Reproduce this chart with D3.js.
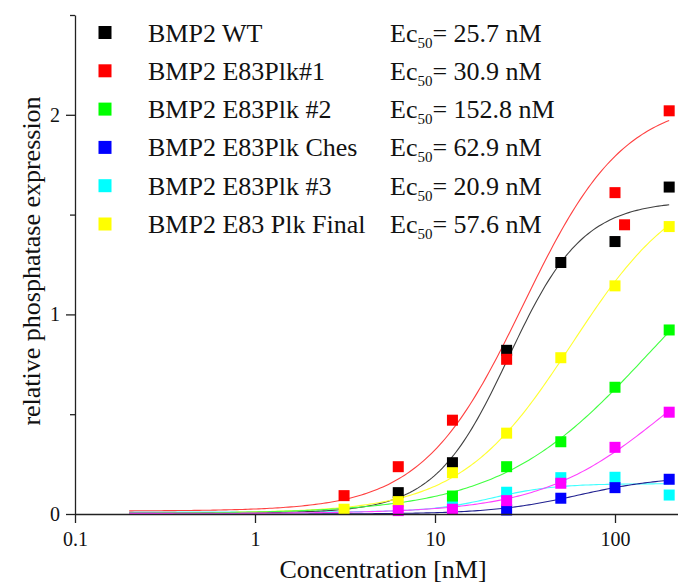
<!DOCTYPE html>
<html>
<head>
<meta charset="utf-8">
<script src="https://cdn.jsdelivr.net/npm/d3@7"></script>
<style>
  body { margin: 0; background: #fff; }
  text { font-family: "Liberation Serif", "Times New Roman", serif; fill: #111; }
</style>
</head>
<body>
<div id="chart"></div>
<script>
// measured points (concentration in nM, relative phosphatase expression)
var concentrations = [3.125, 6.25, 12.5, 25, 50, 100, 200];
var redConcentrations = [3.125, 6.25, 12.5, 25, 100, 113, 200];

var wtValues      = [null, 0.107, 0.257, 0.82, 1.26, 1.365, 1.638];
var plk1Values    = [0.092, 0.237, 0.47, 0.775, 1.61, 1.449, 2.02];
var plk2Values    = [null, null, 0.09, 0.237, 0.362, 0.635, 0.922];
var chesValues    = [null, null, null, 0.02, 0.079, 0.132, 0.174];
var plk3Values    = [null, null, 0.057, 0.109, 0.182, 0.184, 0.095];
var finalValues   = [0.024, 0.062, 0.207, 0.405, 0.783, 1.143, 1.44];
var magentaValues = [null, 0.017, 0.024, 0.067, 0.154, 0.334, 0.51];

var seriesNames = ["BMP2 WT", "BMP2 E83Plk#1", "BMP2 E83Plk #2", "BMP2 E83Plk Ches",
                   "BMP2 E83Plk #3", "BMP2 E83 Plk Final", ""];
var ec50Labels  = ["25.7", "30.9", "152.8", "62.9", "20.9", "57.6", ""];

// dose-response fit parameters (EC50 from legend, the rest)
var fitEc50   = [25.7, 30.9, 152.8, 62.9, 20.9, 57.6, 190];
var fitTop    = [1.57, 2.08, 1.6, 0.19, 0.152, 1.7, 1.0];
var fitBottom = [0.005, 0.015, 0.002, 0.0, 0.01, 0.005, 0.003];
var fitHill   = [2.1, 1.55, 1.05, 1.8, 2.5, 1.4, 1.25];
var fitStart  = [0.2, 0.2, 0.2, 0.2, 0.2, 0.78, 0.2];

var markerColors = ["#000000", "#ff0000", "#00ff00", "#0000ff", "#00ffff", "#ffff00", "#ff00ff"];
var lineColors   = ["#404040", "#ff4040", "#40ff40", "#202090", "#40ffff", "#ffff30", "#ff40ff"];

var xTicks = [0.1, 1, 10, 100];
var yTicks = [0, 1, 2];
var yMinorTicks = [0.5, 1.5, 2.5];

var valueSets = [wtValues, plk1Values, plk2Values, chesValues, plk3Values, finalValues, magentaValues];
var series = valueSets.map(function(vals, i) {
  var xs = i === 1 ? redConcentrations : concentrations;
  return {
    i: i,
    points: vals.map(function(v, j) { return {x: xs[j], y: v}; })
                .filter(function(d) { return d.y !== null; })
  };
});

var width = 678, height = 588;
var svg = d3.select("#chart").append("svg")
    .attr("width", width)
    .attr("height", height);

var x = d3.scaleLog()
    .domain([0.1, Math.pow(10, 2.35)])
    .range([75, 678]);

var y = d3.scaleLinear()
    .domain([0, 2.5])
    .range([514, 15]);

function fit(i, c) {
  return fitBottom[i] + (fitTop[i] - fitBottom[i]) / (1 + Math.pow(fitEc50[i] / c, fitHill[i]));
}

// fitted curves
var line = d3.line()
    .x(function(d) { return x(d[0]); })
    .y(function(d) { return y(d[1]); });

var drawOrder = [4, 3, 0, 1, 5, 2, 6];

drawOrder.forEach(function(i) {
  var lo = Math.log10(fitStart[i]), hi = Math.log10(200);
  var pts = d3.range(0, 201).map(function(k) {
    var c = Math.pow(10, lo + (hi - lo) * k / 200);
    return [c, fit(i, c)];
  });
  svg.append("path")
      .attr("d", line(pts))
      .attr("fill", "none")
      .attr("stroke", lineColors[i])
      .attr("stroke-width", 1.1);
});

// markers
var ms = 11;
drawOrder.forEach(function(i) {
  svg.append("g").selectAll("rect")
      .data(series[i].points)
    .enter().append("rect")
      .attr("x", function(d) { return x(d.x) - ms / 2; })
      .attr("y", function(d) { return y(d.y) - ms / 2; })
      .attr("width", ms)
      .attr("height", ms)
      .attr("fill", markerColors[i]);
});

// axes
var xAxis = svg.append("g")
    .attr("transform", "translate(0,514)")
    .call(d3.axisBottom(x).tickValues(xTicks).tickFormat(function(d) { return d; })
      .tickSize(9).tickSizeOuter(0).tickPadding(9));

var yAxis = svg.append("g")
    .attr("transform", "translate(75,0)")
    .call(d3.axisLeft(y).tickValues(yTicks).tickFormat(d3.format("d"))
      .tickSize(9).tickSizeOuter(0).tickPadding(6));

svg.append("g")
    .attr("transform", "translate(75,0)")
    .call(d3.axisLeft(y).tickValues(yMinorTicks).tickFormat("").tickSize(5).tickSizeOuter(0))
    .select(".domain").remove();

svg.selectAll(".domain, .tick line")
    .attr("stroke", "#222")
    .attr("stroke-width", 1.3);

svg.selectAll(".tick text")
    .style("font-family", "'Liberation Serif', serif")
    .style("font-size", "20px")
    .attr("fill", "#111");

// axis titles
svg.append("text")
    .attr("x", 383)
    .attr("y", 578)
    .attr("text-anchor", "middle")
    .style("font-size", "26px")
    .text("Concentration [nM]");

svg.append("text")
    .attr("transform", "translate(40,261) rotate(-90)")
    .attr("text-anchor", "middle")
    .style("font-size", "26px")
    .text("relative phosphatase expression");

// legend
var legend = svg.selectAll(".legend")
    .data(d3.range(6))
  .enter().append("g")
    .attr("class", "legend")
    .attr("transform", function(d, i) { return "translate(0," + (32.5 + i * 38.3) + ")"; });

legend.append("rect")
    .attr("x", 98.5)
    .attr("y", -6.5)
    .attr("width", 13)
    .attr("height", 13)
    .attr("fill", function(d) { return markerColors[d]; });

legend.append("text")
    .attr("x", 148)
    .attr("y", 9)
    .style("font-size", "26px")
    .text(function(d) { return seriesNames[d]; });

var ec = legend.append("text")
    .attr("x", 390)
    .attr("y", 9)
    .style("font-size", "26px");
ec.append("tspan").text("Ec");
ec.append("tspan").attr("dy", 6).style("font-size", "15px").text("50");
ec.append("tspan").attr("dy", -6).text(function(d) { return "= " + ec50Labels[d] + " nM"; });
</script>
</body>
</html>
